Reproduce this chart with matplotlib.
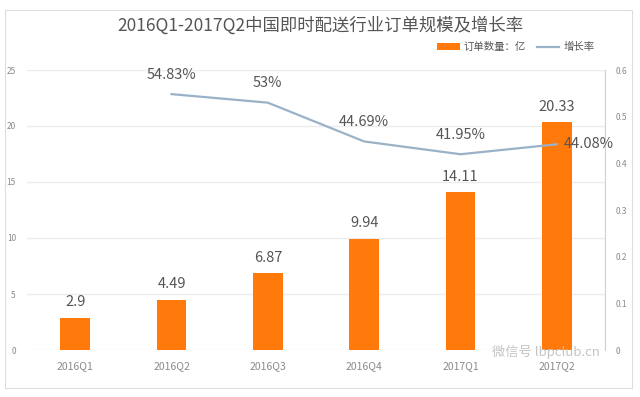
import matplotlib.pyplot as plt
from matplotlib.patches import Rectangle
import numpy as np

plt.rcParams['font.family'] = ['Noto Sans CJK SC', 'DejaVu Sans']

quarters = ['2016Q1', '2016Q2', '2016Q3', '2016Q4', '2017Q1', '2017Q2']
orders = [2.9, 4.49, 6.87, 9.94, 14.11, 20.33]
growth = [None, 0.5483, 0.53, 0.4469, 0.4195, 0.4408]
growth_labels = ['', '54.83%', '53%', '44.69%', '41.95%', '44.08%']

bar_color = '#ff7a0a'
line_color = '#9ab2c8'
txt = '#555555'
tick = '#8a8a8a'

fig = plt.figure(figsize=(6.4, 3.97), dpi=100)
fig.patches.append(Rectangle((5/640, 1-388/397), 627/640, 378/397, transform=fig.transFigure,
                             fill=False, edgecolor='#dddddd', lw=0.8))
ax = fig.add_axes([27/640, 1-350/397, 578/640, 280/397])
ax2 = ax.twinx()

x = np.arange(len(quarters))
bars = ax.bar(x, orders, width=0.31, color=bar_color, zorder=2)
ax.set_ylim(0, 25)
ax.set_xlim(-0.5, 5.5)
ax.set_yticks([0, 5, 10, 15, 20, 25])
ax.grid(axis='y', color='#ececec', lw=1)
ax.set_axisbelow(True)
ax.set_xticks(x)
ax.set_xticklabels(quarters)
ax.tick_params(axis='x', length=0, colors=tick, labelsize=7.5, pad=8)
ax.tick_params(axis='y', length=0, colors=tick, labelsize=6, pad=8)
for s in ax.spines.values():
    s.set_visible(False)
for xi, v in zip(x, orders):
    ax.annotate(f'{v:g}', (xi, v), xytext=(0, 6), textcoords='offset points',
                ha='center', va='bottom', fontsize=10.5, color=txt)

gx = [xi for xi, g in zip(x, growth) if g is not None]
gy = [g for g in growth if g is not None]
ax2.plot(gx, gy, color=line_color, lw=1.6, zorder=3)
ax2.set_ylim(0, 0.6)
ax2.set_yticks([0, 0.1, 0.2, 0.3, 0.4, 0.5, 0.6])
ax2.set_yticklabels(['0', '0.1', '0.2', '0.3', '0.4', '0.5', '0.6'])
ax2.tick_params(axis='y', length=0, colors=tick, labelsize=6, pad=8)
for s in ['top', 'left', 'bottom']:
    ax2.spines[s].set_visible(False)
ax2.spines['right'].set_color('#d0d0d0')
for xi, g, lab in zip(x, growth, growth_labels):
    if g is None:
        continue
    if lab == '44.08%':
        ax2.annotate(lab, (xi, g), xytext=(5, 0), textcoords='offset points',
                     ha='left', va='center', fontsize=10.5, color=txt)
    else:
        ax2.annotate(lab, (xi, g), xytext=(0, 9), textcoords='offset points',
                     ha='center', va='bottom', fontsize=10.5, color=txt)

fig.text(320/640, 1-25/397, '2016Q1-2017Q2中国即时配送行业订单规模及增长率',
         ha='center', va='center', fontsize=12.5, color=txt)

# legend
leg = fig.legend([bars, plt.Line2D([], [], color=line_color, lw=1.6)],
                 ['订单数量：亿', '增长率'], loc='center right',
                 bbox_to_anchor=(600/640, 1-47/397), ncol=2, frameon=False,
                 fontsize=7.5, handlelength=2.2, handleheight=0.6, columnspacing=1.0,
                 handletextpad=0.4, borderpad=0)
for t in leg.get_texts():
    t.set_color(txt)

fig.text(492/640, 1-352/397, '微信号 lbpclub.cn', fontsize=9.5, color='#c4c4c4',
         ha='left', va='center')

fig.savefig('out.png', dpi=100)
